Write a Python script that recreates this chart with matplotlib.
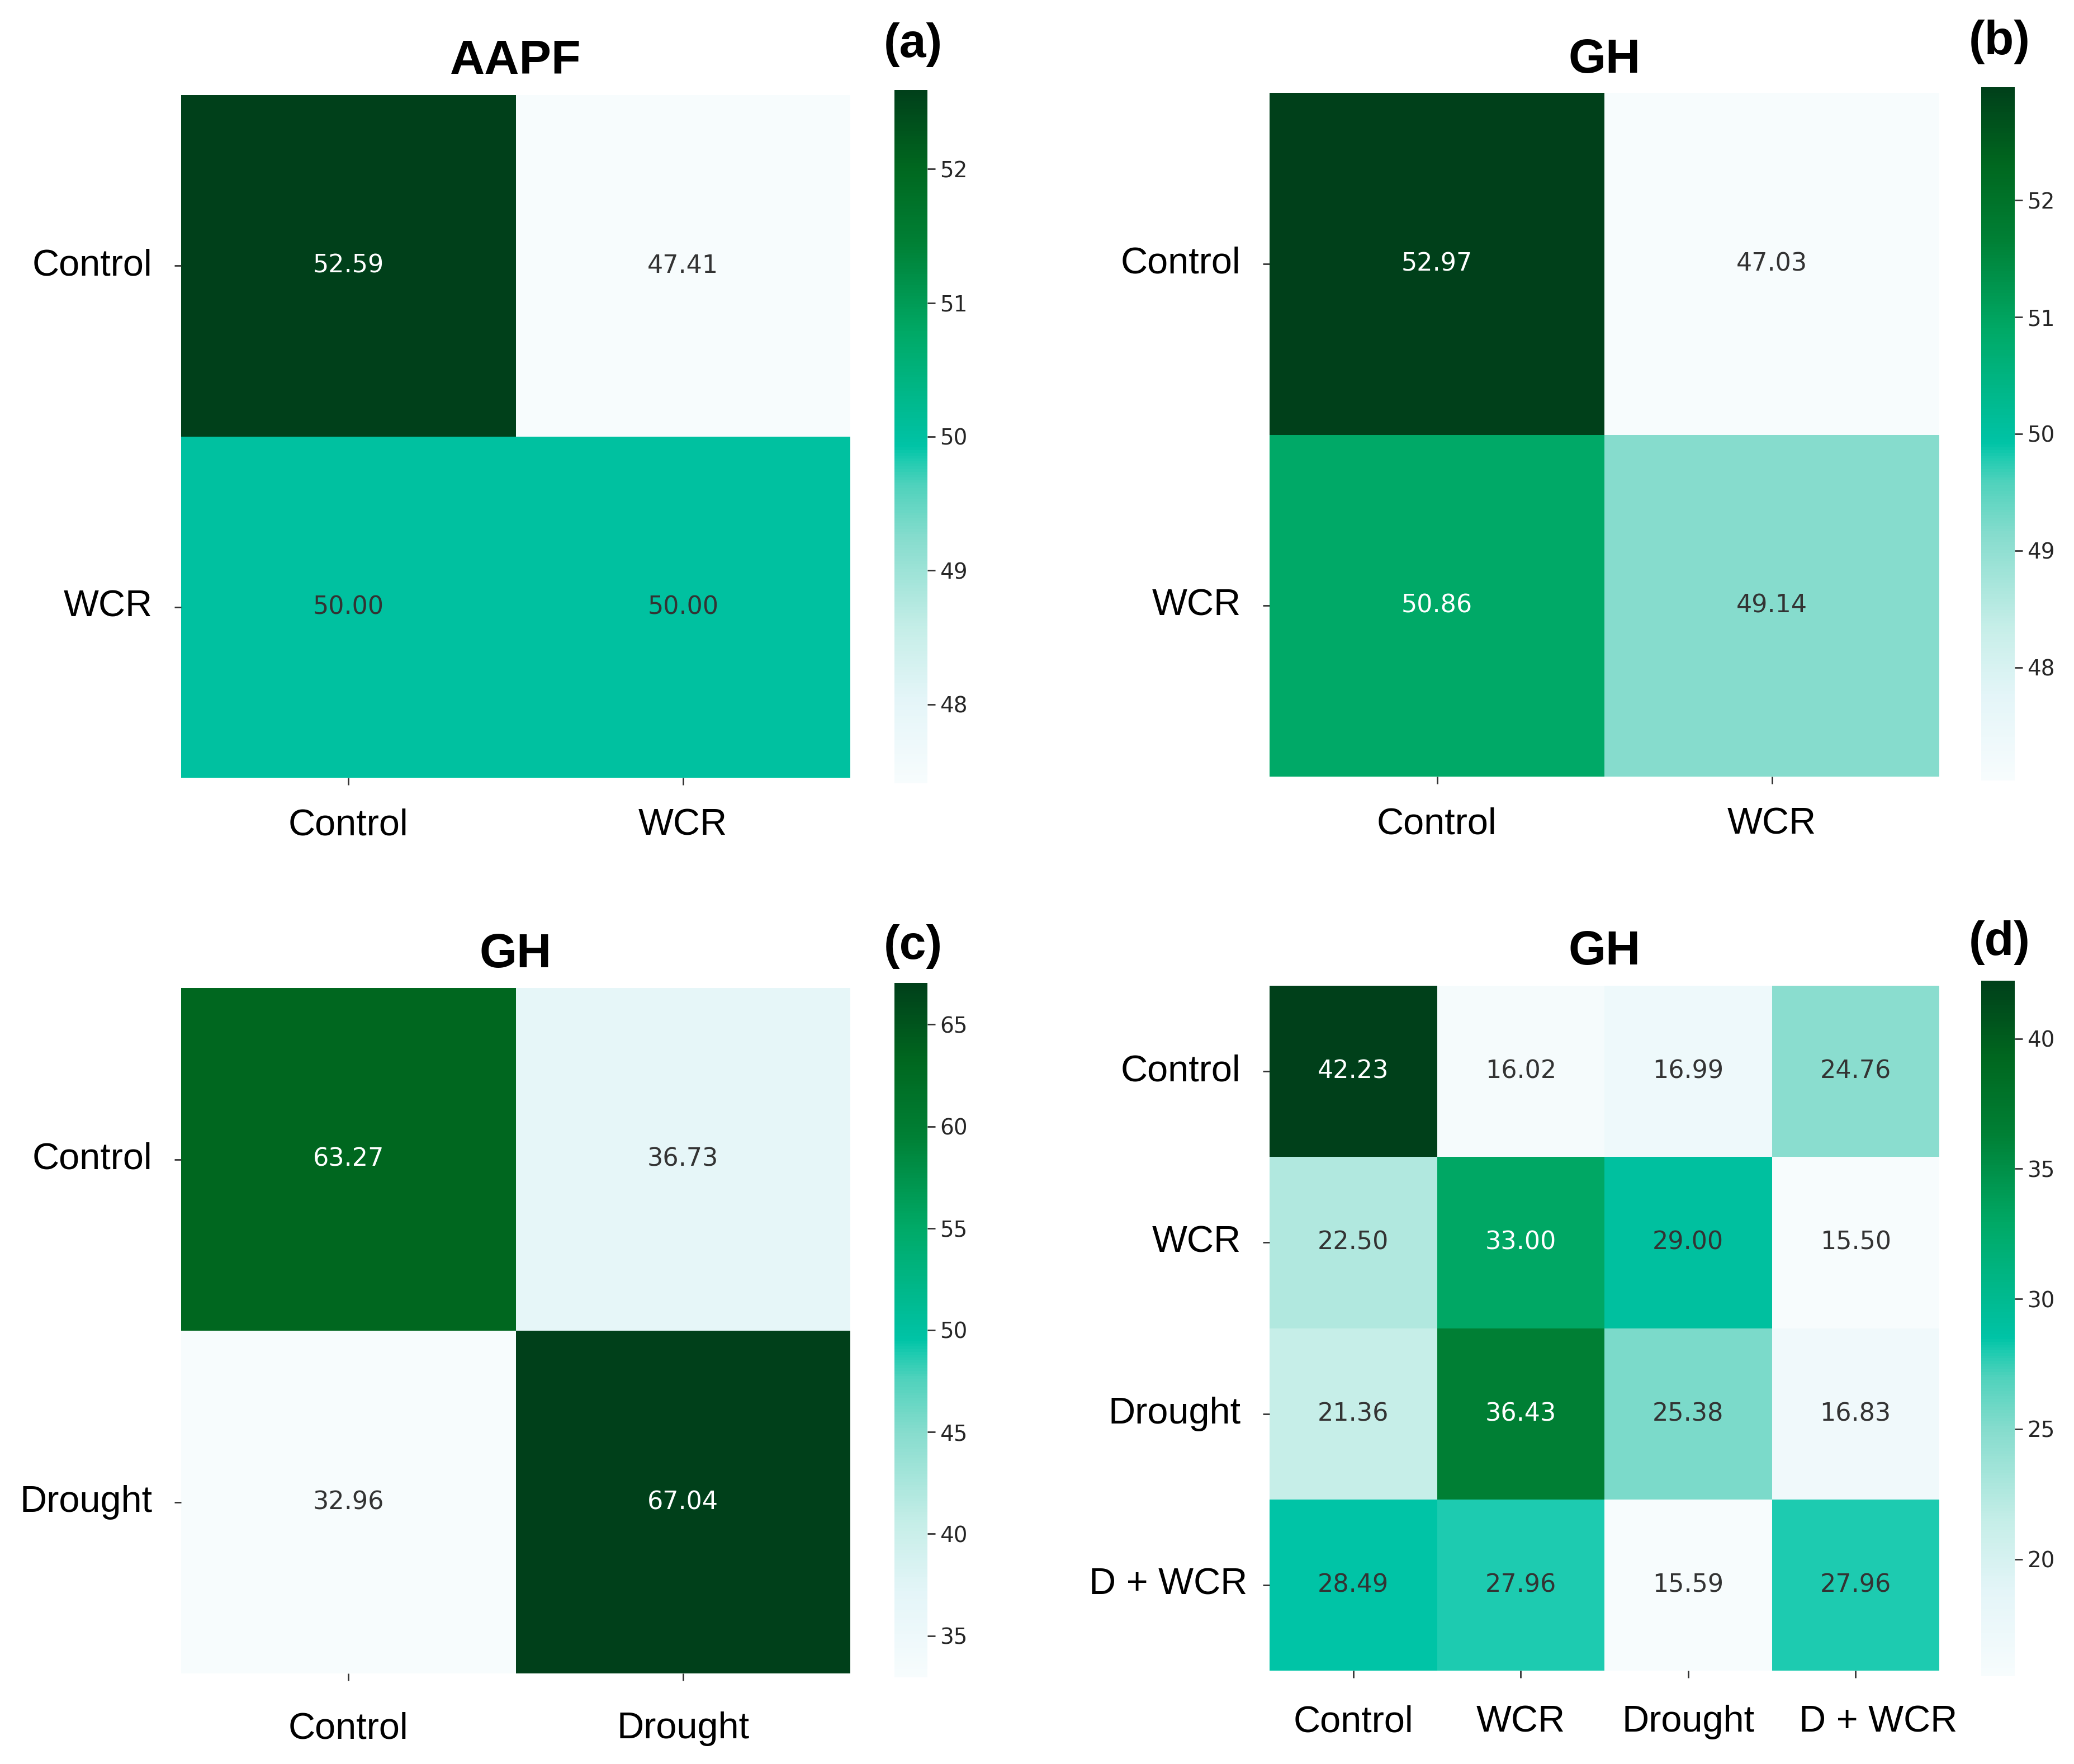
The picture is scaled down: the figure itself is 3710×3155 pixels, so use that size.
import numpy as np
import matplotlib
matplotlib.use("Agg")
import matplotlib.pyplot as plt
import matplotlib.transforms as mtransforms
import seaborn as sns
from matplotlib.colors import LinearSegmentedColormap, Normalize

# ---------------- data ----------------
labels_a = ["Control", "WCR"]
values_a = [[52.59, 47.41],
            [50.00, 50.00]]
title_a = "AAPF"

labels_b = ["Control", "WCR"]
values_b = [[52.97, 47.03],
            [50.86, 49.14]]
title_b = "GH"

labels_c = ["Control", "Drought"]
values_c = [[63.27, 36.73],
            [32.96, 67.04]]
title_c = "GH"

labels_d = ["Control", "WCR", "Drought", "D + WCR"]
values_d = [[42.23, 16.02, 16.99, 24.76],
            [22.50, 33.00, 29.00, 15.50],
            [21.36, 36.43, 25.38, 16.83],
            [28.49, 27.96, 15.59, 27.96]]
title_d = "GH"

ticks_a = [48, 49, 50, 51, 52]
ticks_b = [48, 49, 50, 51, 52]
ticks_c = [35, 40, 45, 50, 55, 60, 65]
ticks_d = [20, 25, 30, 35, 40]

panel_tags = ["(a)", "(b)", "(c)", "(d)"]

# ---------------- style ----------------
cmap = LinearSegmentedColormap.from_list("bugn_sat", [
    (0.00, "#f7fcfd"),
    (0.12, "#e4f5f8"),
    (0.22, "#c6eee8"),
    (0.355, "#85dccd"),
    (0.43, "#4fd2bc"),
    (0.466, "#1ecbb0"),
    (0.486, "#00c4a6"),
    (0.50, "#00c1a1"),
    (0.65, "#00a966"),
    (0.78, "#008035"),
    (0.89, "#00671f"),
    (1.00, "#00401a"),
])
ref_cmap = plt.get_cmap("BuGn")

W, H = 3710, 3155
fig = plt.figure(figsize=(W / 100, H / 100), dpi=100)
fig.patch.set_facecolor("white")

def px(l, t, r, b):
    return [l / W, 1 - b / H, (r - l) / W, (b - t) / H]

panels = [
    dict(vals=values_a, labels=labels_a, title=title_a, ticks=ticks_a,
         ax=px(324, 170, 1521, 1391), cax=px(1600, 161, 1659, 1401),
         title_y=132, tag_x=1633, tag_y=102, xpad=30),
    dict(vals=values_b, labels=labels_b, title=title_b, ticks=ticks_b,
         ax=px(2271, 166, 3469, 1389), cax=px(3544, 156, 3604, 1396),
         title_y=130, tag_x=3577, tag_y=97, xpad=30),
    dict(vals=values_c, labels=labels_c, title=title_c, ticks=ticks_c,
         ax=px(324, 1767, 1521, 2993), cax=px(1600, 1758, 1659, 3000),
         title_y=1730, tag_x=1633, tag_y=1715, xpad=40),
    dict(vals=values_d, labels=labels_d, title=title_d, ticks=ticks_d,
         ax=px(2271, 1763, 3469, 2988), cax=px(3544, 1754, 3604, 2998),
         title_y=1725, tag_x=3577, tag_y=1708, xpad=35),
]

def luminance(c):
    rgb = np.array(c[:3])
    rgb = np.where(rgb <= 0.03928, rgb / 12.92, ((rgb + 0.055) / 1.055) ** 2.4)
    return 0.2126 * rgb[0] + 0.7152 * rgb[1] + 0.0722 * rgb[2]

for i, p in enumerate(panels):
    data = np.array(p["vals"])
    ax = fig.add_axes(p["ax"])
    cax = fig.add_axes(p["cax"])
    vmin, vmax = data.min(), data.max()
    sns.heatmap(data, ax=ax, cbar_ax=cax, cmap=cmap, vmin=vmin, vmax=vmax,
                annot=False, xticklabels=p["labels"], yticklabels=p["labels"])
    norm = Normalize(vmin, vmax)
    n = data.shape[0]
    for r in range(n):
        for c in range(data.shape[1]):
            v = data[r, c]
            col = "w" if luminance(ref_cmap(norm(v))) < 0.408 else "#333333"
            ax.text(c + 0.5, r + 0.5, f"{v:.2f}", ha="center", va="center",
                    color=col, fontsize=32, family="DejaVu Sans")
    ax.tick_params(axis="both", length=9, width=2, color="#333333")
    ax.tick_params(axis="y", pad=28, rotation=0)
    ax.tick_params(axis="x", pad=p["xpad"], rotation=0)
    for lab in ax.get_xticklabels() + ax.get_yticklabels():
        lab.set_fontsize(48)
        lab.set_family("Liberation Sans")
        lab.set_color("black")
    if len(p["labels"]) == 4:
        xl = ax.get_xticklabels()[-1]
        xl.set_transform(xl.get_transform() +
                         mtransforms.ScaledTranslation(0.4, 0, fig.dpi_scale_trans))
        yl = ax.get_yticklabels()[-1]
        yl.set_transform(yl.get_transform() +
                         mtransforms.ScaledTranslation(0.12, 0, fig.dpi_scale_trans))
    cax.set_yticks(p["ticks"])
    cax.set_yticklabels([str(t) for t in p["ticks"]])
    cax.tick_params(length=10, width=2, color="#333333", labelsize=28,
                    labelcolor="#262626", pad=6)
    # title and tag
    l, b, w, h = p["ax"]
    fig.text(l + w / 2, 1 - p["title_y"] / H, p["title"], ha="center",
             va="baseline", fontsize=62, fontweight="bold",
             family="Liberation Sans")
    fig.text(p["tag_x"] / W, 1 - p["tag_y"] / H, panel_tags[i], ha="center",
             va="baseline", fontsize=62, fontweight="bold",
             family="Liberation Sans")

fig.savefig("out.png", dpi=100, facecolor="white")
